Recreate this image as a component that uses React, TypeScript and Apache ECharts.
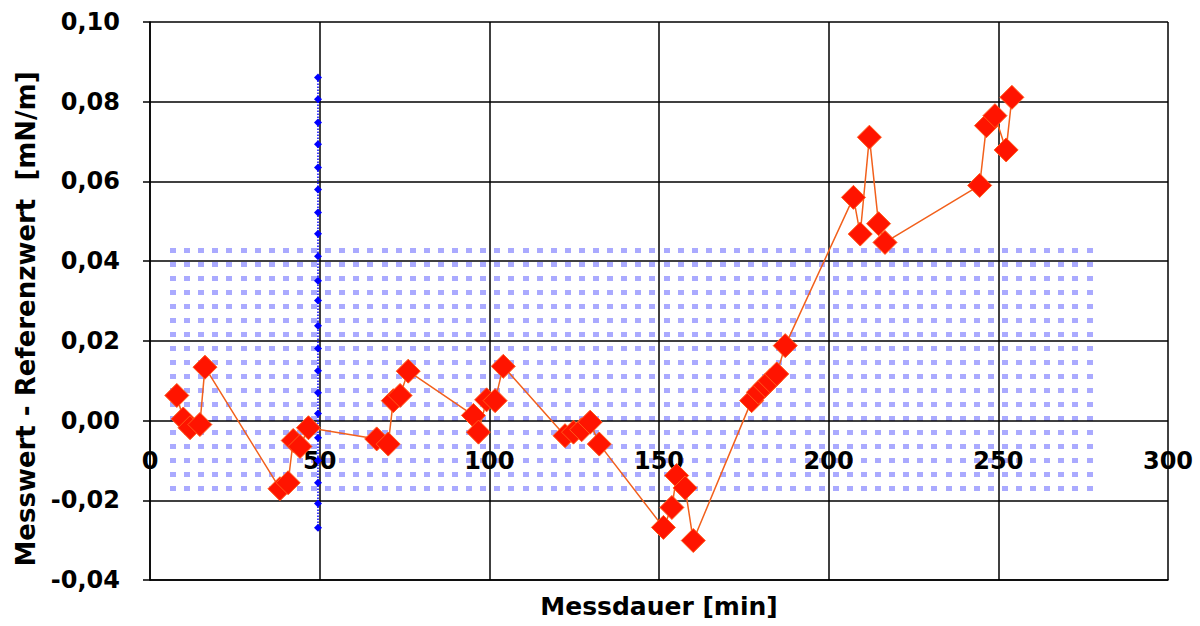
import React, { useEffect, useRef } from "react";
import * as echarts from "echarts";

// Measurement series: [Messdauer min, Messwert - Referenzwert mN/m]
const measX = [7.9, 9.8, 11.8, 14.7, 16.2, 38.3, 40.7, 42.2, 44.2, 46.7, 66.8, 70.2, 71.7, 73.7, 76.1, 95.3, 96.8, 99.2, 101.7, 104.1, 122.3, 124.8, 127.2, 129.7, 132.4, 151.3, 153.8, 155.2, 157.7, 160.1, 177.3, 179.3, 181.3, 182.7, 184.7, 187.2, 207.3, 209.3, 212.0, 214.7, 216.6, 244.5, 246.5, 249.0, 252.3, 254.0];
const measY = [0.0063, 0.0004, -0.0018, -0.001, 0.0134, -0.0171, -0.0156, -0.005, -0.0065, -0.0018, -0.0046, -0.0059, 0.005, 0.0063, 0.0124, 0.0013, -0.0029, 0.0052, 0.005, 0.0136, -0.0038, -0.0029, -0.0023, -0.0004, -0.0059, -0.0268, -0.0218, -0.0138, -0.0169, -0.0301, 0.005, 0.0071, 0.0088, 0.01, 0.0117, 0.0188, 0.056, 0.0468, 0.0711, 0.0494, 0.0447, 0.059, 0.074, 0.0765, 0.0679, 0.0811];

// Blue vertical marker series at ~50 min
const markerX = 49.5;
const markerY = [0.0861, 0.0806, 0.0748, 0.0693, 0.0635, 0.058, 0.0522, 0.0469, 0.0412, 0.0351, 0.0301, 0.0238, 0.0181, 0.0125, 0.007, 0.0018, -0.0043, -0.01, -0.0156, -0.0208, -0.0269];

// Tolerance band (dotted area)
const bandX = [5.9, 279];
const bandY = [-0.0183, 0.0432];

const xTicks = [0, 50, 100, 150, 200, 250, 300];
const yTicks = [-0.04, -0.02, 0.0, 0.02, 0.04, 0.06, 0.08, 0.1];
const yTickLabels = ["-0,04", "-0,02", "0,00", "0,02", "0,04", "0,06", "0,08", "0,10"];

const FONT = "DejaVu Sans";

export default function App() {
  const ref = useRef<HTMLDivElement>(null);
  useEffect(() => {
    if (!ref.current) return;
    const chart = echarts.init(ref.current, null, { renderer: "svg" });
    const labelFor = (v: number) => {
      const i = yTicks.findIndex((t) => Math.abs(t - v) < 1e-6);
      return i >= 0 ? yTickLabels[i] : "";
    };
    const option: any = {
      animation: false,
      backgroundColor: "#ffffff",
      grid: { left: 150, right: 32, top: 22, bottom: 46, containLabel: false, outerBoundsMode: "none" },
      xAxis: {
        type: "value",
        z: 2,
        min: xTicks[0],
        max: xTicks[xTicks.length - 1],
        interval: 50,
        name: "Messdauer [min]",
        nameLocation: "middle",
        nameGap: 14,
        nameTextStyle: { fontFamily: FONT, fontWeight: "bold", fontSize: 25, color: "#000" },
        axisLine: { onZero: false, lineStyle: { color: "#000", width: 1.5 } },
        axisTick: { show: false },
        axisLabel: { inside: true, fontFamily: FONT, fontWeight: "bold", fontSize: 24, color: "#000", margin: 107 },
        splitLine: { show: true, lineStyle: { color: "#000", width: 1.5 } },
      },
      yAxis: {
        type: "value",
        z: 2,
        min: yTicks[0],
        max: yTicks[yTicks.length - 1],
        interval: 0.02,
        name: "Messwert - Referenzwert  [mN/m]",
        nameLocation: "middle",
        nameGap: 111,
        nameTextStyle: { fontFamily: FONT, fontWeight: "bold", fontSize: 26, color: "#000", padding: [0, 36, 0, 0] },
        axisLine: { show: true, onZero: false, lineStyle: { color: "#000", width: 1.5 } },
        axisTick: { show: true, inside: false, length: 7, lineStyle: { color: "#000", width: 1.5 } },
        axisLabel: { fontFamily: FONT, fontWeight: "bold", fontSize: 24, color: "#000", margin: 30, formatter: labelFor },
        splitLine: { show: true, lineStyle: { color: "#000", width: 1.5 } },
      },
      series: [
        {
          type: "custom",
          silent: true,
          clip: false,
          z: 1,
          encode: { x: [0, 1], y: [2, 3] },
          data: [[bandX[0], bandX[1], bandY[0], bandY[1]]],
          renderItem: (params: any, api: any) => {
            const tl = api.coord([api.value(0), api.value(3)]);
            const br = api.coord([api.value(1), api.value(2)]);
            const children: any[] = [];
            const sx = 14.1, sy = 14, w = 6, h = 5;
            for (let y = tl[1]; y + h <= br[1] + 1; y += sy) {
              for (let x = tl[0]; x + w <= br[0] + 1; x += sx) {
                children.push({
                  type: "rect",
                  shape: { x: Math.round(x), y: Math.round(y), width: w, height: h },
                  style: { fill: "#aaaaff" },
                });
              }
            }
            return { type: "group", children };
          },
        },
        {
          type: "line",
          z: 3,
          data: markerY.map((v) => [markerX, v]),
          symbol: "diamond",
          symbolSize: 8,
          itemStyle: { color: "#0000ff" },
          lineStyle: { color: "#0000ff", width: 1.5, type: "dotted" },
        },
        {
          type: "line",
          z: 4,
          data: measX.map((x, i) => [x, measY[i]]),
          symbol: "diamond",
          symbolSize: 24,
          itemStyle: { color: "#ff1400", borderColor: "#ff5a1a", borderWidth: 1 },
          lineStyle: { color: "#f2601c", width: 1.5 },
        },
      ],
    };
    chart.setOption(option);
    return () => chart.dispose();
  }, []);
  return <div ref={ref} style={{ position: "absolute", left: 0, top: 0, width: 1200, height: 626 }} />;
}
